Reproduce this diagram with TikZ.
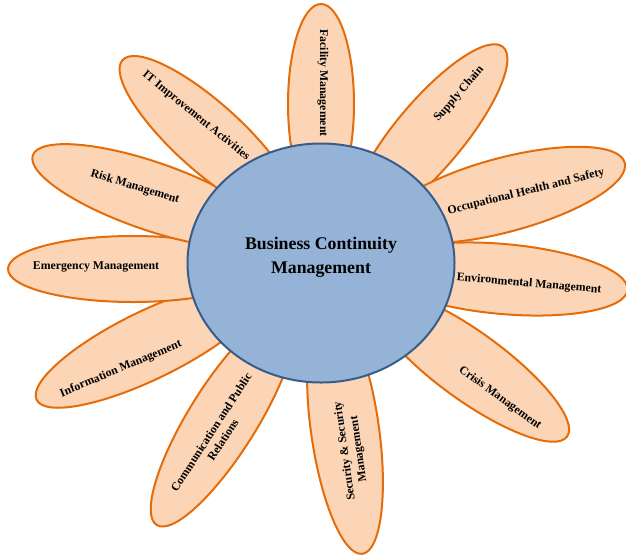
\documentclass[tikz,border=0pt]{standalone}
\usepackage{fontspec}
\setmainfont{Liberation Serif}
\usepackage{xcolor}
\usepackage{tikz}
\usetikzlibrary{shapes.geometric}

\definecolor{petalfill}{HTML}{FBD5B5}
\definecolor{petalline}{HTML}{E46C0A}
\definecolor{hubfill}{HTML}{95B3D7}
\definecolor{hubline}{HTML}{385D8A}

\begin{document}
\begin{tikzpicture}[
    x=1pt, y=1pt,
    petal/.style={
        ellipse,
        draw=petalline,
        fill=petalfill,
        line width=2pt,
        inner sep=0pt,
        minimum width=250pt,
        minimum height=68pt
    },
    hub/.style={
        ellipse,
        draw=hubline,
        fill=hubfill,
        line width=2pt,
        inner sep=0pt,
        minimum width=267pt,
        minimum height=239pt
    },
    petaltext/.style={
        font=\fontsize{11.8}{14}\selectfont\bfseries,
        align=center,
        inner sep=0pt
    },
    hubtext/.style={
        font=\fontsize{17.8}{24}\selectfont\bfseries,
        align=center
    }
]
\useasboundingbox (0,0) rectangle (626,-555);

% Petals
\node[petal, minimum width=200pt, minimum height=66pt, rotate=90] (facility) at (321,-104) {};
\node[petal, minimum width=230pt, rotate=50] (supply) at (429,-135) {};
\node[petal, minimum height=74pt, rotate=15] (safety) at (504,-195) {};
\node[petal, minimum height=70pt, rotate=-5] (environment) at (503,-279) {};
\node[petal, minimum width=240pt, rotate=-36] (crisis) at (470,-366) {};
\node[petal, rotate=-82] (security) at (345,-430) {};
\node[petal, rotate=58] (communication) at (223,-419) {};
\node[petal, rotate=26] (information) at (149,-345) {};
\node[petal, minimum height=66pt] (emergency) at (133,-269) {};
\node[petal, rotate=-19] (risk) at (151,-196) {};
\node[petal, minimum width=230pt, rotate=-42] (improvement) at (208,-137) {};

% Centre
\node[hub] (bcm) at (321,-263) {};
\node[hubtext] (bcm-text) at (321,-257) {Business Continuity\\Management};

% Petal labels
\node[petaltext, rotate=-90] (facility-text) at (323,-83) {Facility Management};
\node[petaltext, rotate=49] (supply-text) at (459,-94) {Supply Chain};
\node[petaltext, rotate=14] (safety-text) at (526,-192) {Occupational Health and Safety};
\node[petaltext, rotate=-5] (environment-text) at (529,-284) {Environmental Management};
\node[petaltext, rotate=-36] (crisis-text) at (500,-398) {Crisis Management};
\node[petaltext, rotate=98] (security-text) at (352,-450) {Security \& Security\\Management};
\node[petaltext, rotate=57] (communication-text) at (217,-436) {Communication and Public\\Relations};
\node[petaltext, rotate=23] (information-text) at (121,-369) {Information Management};
\node[petaltext] (emergency-text) at (96,-267) {Emergency Management};
\node[petaltext, rotate=-17] (risk-text) at (135,-187) {Risk Management};
\node[petaltext, rotate=-39] (improvement-text) at (196,-116) {IT Improvement Activities};
\end{tikzpicture}
\end{document}
